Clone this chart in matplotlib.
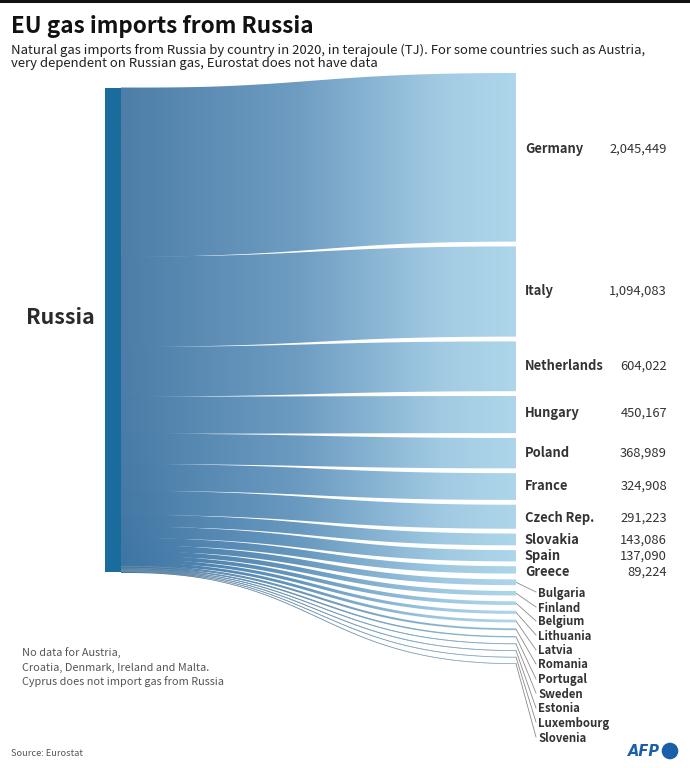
import numpy as np
import matplotlib
matplotlib.use("Agg")
import matplotlib.pyplot as plt
from matplotlib.patches import Rectangle, Circle
from matplotlib.colors import LinearSegmentedColormap

# ---- data (last 11 values estimated from band thickness) ----
major_countries = ["Germany", "Italy", "Netherlands", "Hungary", "Poland", "France",
                   "Czech Rep.", "Slovakia", "Spain", "Greece"]
major_values = [2045449, 1094083, 604022, 450167, 368989, 324908, 291223, 143086, 137090, 89224]
major_label_y = [149, 291, 366, 413, 453, 486, 518, 540, 556, 572]
minor_countries = ["Bulgaria", "Finland", "Belgium", "Lithuania", "Latvia", "Romania",
                   "Portugal", "Sweden", "Estonia", "Luxembourg", "Slovenia"]
minor_values = [70000, 55000, 45000, 37000, 33000, 25000, 18000, 12000, 11000, 9000, 8000]
minor_label_y = [593, 608, 622, 636, 651, 665, 680, 694, 709, 723, 738]

FONT = ["Noto Sans CJK SC", "DejaVu Sans"]
DARK = "#1f1f1f"
TJ_PER_PX = 12130.0
X0, X1 = 121, 516

fig = plt.figure(figsize=(6.9, 7.68), dpi=100)
ax = fig.add_axes([0, 0, 1, 1])
ax.axis("off")

ax.add_patch(Rectangle((0, 0), 690, 3, color="#111111", lw=0))

cmap_top = LinearSegmentedColormap.from_list(
    "flow", [(0, "#4c7ea8"), (0.45, "#6f9dc2"), (0.82, "#a3cce4"), (1, "#aed6ea")])
cmap_bottom = LinearSegmentedColormap.from_list(
    "flow2", [(0, "#3c74a3"), (0.45, "#6496bd"), (0.82, "#9fc9e2"), (1, "#aed6ea")])
steps = np.linspace(0, 1, 512)
grad_top = cmap_top(steps)[None, :, :3]
grad_bottom = cmap_bottom(steps)[None, :, :3]


def ribbon(x0, y0, x1, y1, h, lap):
    t = np.linspace(0, 1, 160)
    xm = (x0 + x1) / 2
    x = (1 - t) ** 3 * x0 + 3 * (1 - t) ** 2 * t * xm + 3 * (1 - t) * t ** 2 * xm + t ** 3 * x1
    y = (1 - t) ** 3 * y0 + 3 * (1 - t) ** 2 * t * y0 + 3 * (1 - t) * t ** 2 * y1 + t ** 3 * y1
    dx, dy = np.gradient(x), np.gradient(y)
    n = np.hypot(dx, dy)
    nx, ny = -dy / n, dx / n
    extra = lap * np.clip(1 - (x - x0) / 90, 0, 1)
    half = h / 2 + extra
    top = np.column_stack([x - nx * half, y - ny * half])
    bot = np.column_stack([x + nx * half, y + ny * half])
    return np.vstack([top, bot[::-1]]), x, y


values = major_values + minor_values
left_y = 88.0
right_y = 73.0
right_mid = []
for i, v in enumerate(values):
    h = v / TJ_PER_PX
    is_major = i < len(major_values)
    poly, cx, cy = ribbon(X0, left_y + h / 2, X1, right_y + h / 2, h, 0.5 if is_major else 1.0)
    patch = plt.Polygon(poly, closed=True, fc="none", ec="none")
    ax.add_patch(patch)
    w = ((left_y - 88) / 484) ** 4
    rgb = (1 - w) * grad_top + w * grad_bottom
    im = ax.imshow(rgb, extent=[X0, X1, 768, 0], aspect="auto",
                   interpolation="bilinear", zorder=2)
    im.set_clip_path(patch)
    if h < 2.2:
        ax.plot(cx, cy, color="#7f98ab", lw=0.5, alpha=0.8, zorder=2.5)
    right_mid.append(right_y + h / 2)
    left_y += h
    right_y += h + (4.8 if is_major and i < len(major_values) - 1 else 5.8)
ax.set_xlim(0, 690)
ax.set_ylim(768, 0)

ax.add_patch(Rectangle((105, 88), 16, left_y - 88, color="#1a6c9c", lw=0, zorder=3))

# titles
ax.text(11, 26, "EU gas imports from Russia", fontsize=16.2, fontweight="bold",
        family=FONT, color="#111111", va="center")
ax.text(11, 50, "Natural gas imports from Russia by country in 2020, in terajoule (TJ). For some countries such as Austria,",
        fontsize=9.45, family=FONT, color=DARK, va="center")
ax.text(11, 64, "very dependent on Russian gas, Eurostat does not have data",
        fontsize=9.45, family=FONT, color=DARK, va="center")

ax.text(26, 318, "Russia", fontsize=15.4, fontweight="bold", family=FONT, color="#2b2b2b", va="center")

# major labels
for name, val, y in zip(major_countries, major_values, major_label_y):
    ax.text(525, y, name, fontsize=9.3, fontweight="bold", family=FONT, color="#333333", va="center")
    ax.text(667, y, f"{val:,}", fontsize=9.3, family=FONT, color="#333333", va="center", ha="right")

# minor labels + leaders
for name, y, my in zip(minor_countries, minor_label_y, right_mid[len(major_values):]):
    ax.plot([516, 536], [my, y - 1], color="#8a8a8a", lw=0.6, zorder=1)
    ax.text(538, y, name, fontsize=8.2, fontweight="bold", family=FONT, color="#333333", va="center")

# notes
for y, line in zip([653, 668, 682], ["No data for Austria,", "Croatia, Denmark, Ireland and Malta.",
                                     "Cyprus does not import gas from Russia"]):
    ax.text(22, y, line, fontsize=7.85, family=FONT, color="#555555", va="center")
ax.text(11, 753, "Source: Eurostat", fontsize=6.7, family=FONT, color="#555555", va="center")

# logo
ax.text(628, 751, "AFP", fontsize=10.5, fontweight="bold", style="oblique", family="DejaVu Sans",
        color="#1a5fa8", va="center")
ax.add_patch(Circle((670, 751), 8.3, color="#1a5fa8", lw=0))

fig.savefig("out.png", dpi=100)
